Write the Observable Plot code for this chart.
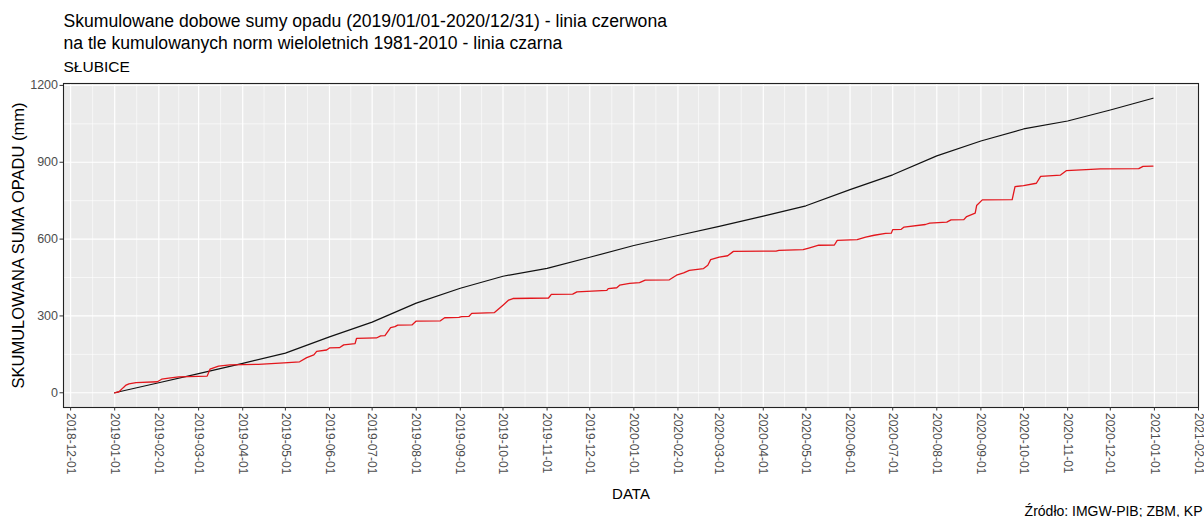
<!DOCTYPE html>
<html>
<head>
<meta charset="utf-8">
<script src="https://cdn.jsdelivr.net/npm/d3@7"></script>
<script src="https://cdn.jsdelivr.net/npm/@observablehq/plot@0.6"></script>
<style>
  html, body { margin: 0; padding: 0; background: #ffffff; }
</style>
</head>
<body>
<div id="chart"></div>
<script>
// Month ticks on the date axis
const monthTicks = [
  "2018-12-01",
  "2019-01-01", "2019-02-01", "2019-03-01", "2019-04-01", "2019-05-01", "2019-06-01",
  "2019-07-01", "2019-08-01", "2019-09-01", "2019-10-01", "2019-11-01", "2019-12-01",
  "2020-01-01", "2020-02-01", "2020-03-01", "2020-04-01", "2020-05-01", "2020-06-01",
  "2020-07-01", "2020-08-01", "2020-09-01", "2020-10-01", "2020-11-01", "2020-12-01",
  "2021-01-01", "2021-02-01"
];
const yTicks = [0, 300, 600, 900, 1200];
const yMinorTicks = [150, 450, 750, 1050];

// Cumulative long-term norm 1981-2010 (mm)
const normDates = [
  "2019-01-01", "2019-02-01", "2019-03-01", "2019-04-01", "2019-05-01", "2019-06-01",
  "2019-07-01", "2019-08-01", "2019-09-01", "2019-10-01", "2019-11-01", "2019-12-01",
  "2020-01-01", "2020-02-01", "2020-03-01", "2020-04-01", "2020-05-01", "2020-06-01",
  "2020-07-01", "2020-08-01", "2020-09-01", "2020-10-01", "2020-11-01", "2020-12-01",
  "2020-12-31"
];
const normTotals = [
  0, 39, 75, 115, 155, 218, 276, 350, 408, 455, 486, 529,
  575, 614, 650, 690, 730, 793, 851, 925, 983, 1030, 1061, 1104,
  1150
];

// Cumulative daily precipitation, Słubice (mm)
const rainDates = [
  "2019-01-01", "2019-01-04", "2019-01-07", "2019-01-09", "2019-01-11", "2019-01-16",
  "2019-01-31", "2019-02-03", "2019-02-08", "2019-02-15", "2019-03-07", "2019-03-09",
  "2019-03-15", "2019-03-23", "2019-04-12", "2019-04-30", "2019-05-11", "2019-05-16",
  "2019-05-21", "2019-05-23", "2019-05-30", "2019-06-01", "2019-06-08", "2019-06-11",
  "2019-06-19", "2019-06-20", "2019-07-04", "2019-07-07", "2019-07-10", "2019-07-14",
  "2019-07-17", "2019-07-19", "2019-07-29", "2019-08-01", "2019-08-18", "2019-08-21",
  "2019-08-31", "2019-09-02", "2019-09-07", "2019-09-09", "2019-09-25", "2019-10-01",
  "2019-10-05", "2019-10-08", "2019-11-02", "2019-11-04", "2019-11-19", "2019-11-22",
  "2019-12-13", "2019-12-14", "2019-12-20", "2019-12-22", "2019-12-29",
  "2020-01-05", "2020-01-09", "2020-01-26", "2020-01-31", "2020-02-05", "2020-02-09",
  "2020-02-19", "2020-02-22", "2020-02-24", "2020-03-01", "2020-03-07", "2020-03-11",
  "2020-04-10", "2020-04-12", "2020-04-29", "2020-05-03", "2020-05-10", "2020-05-21",
  "2020-05-23", "2020-06-06", "2020-06-12", "2020-06-18", "2020-06-26", "2020-06-30",
  "2020-07-01", "2020-07-07", "2020-07-09", "2020-07-24", "2020-07-27", "2020-08-08",
  "2020-08-11", "2020-08-20", "2020-08-22", "2020-08-28", "2020-08-29", "2020-09-02",
  "2020-09-23", "2020-09-25", "2020-10-01", "2020-10-10", "2020-10-13", "2020-10-27",
  "2020-10-31", "2020-11-14", "2020-11-24", "2020-12-21", "2020-12-24", "2020-12-31"
];
const rainTotals = [
  0, 4, 20, 30, 35, 40,
  43, 53, 57, 62, 65, 92,
  104, 109, 111, 117, 121, 137,
  148, 162, 167, 175, 176, 187,
  192, 212, 214, 222, 223, 254,
  258, 264, 265, 280, 281, 293,
  294, 297, 298, 310, 313, 342,
  362, 368, 370, 384, 385, 394,
  400, 407, 410, 420, 427,
  430, 440, 441, 459, 468, 478,
  485, 498, 520, 530, 535, 552,
  553, 556, 559, 565, 576, 577,
  595, 598, 608, 615, 622, 623,
  637, 638, 647, 657, 662, 666,
  675, 676, 688, 701, 731, 753,
  754, 805, 809, 818, 845, 850,
  867, 871, 874, 875, 884, 885
];

const titleLines = [
  "Skumulowane dobowe sumy opadu (2019/01/01-2020/12/31) - linia czerwona",
  "na tle kumulowanych norm wieloletnich 1981-2010 - linia czarna"
];
const stationName = "SŁUBICE";
const yTitle = "SKUMULOWANA SUMA OPADU (mm)";
const xTitle = "DATA";
const sourceNote = "Źródło: IMGW-PIB; ZBM, KP";

const parse = d3.utcParse("%Y-%m-%d");
const xTicks = monthTicks.map(parse);
const xMinorTicks = d3.pairs(xTicks, (a, b) => new Date((+a + +b) / 2));
const norm = normDates.map((d, i) => ({date: parse(d), value: normTotals[i]}));
const rain = rainDates.map((d, i) => ({date: parse(d), value: rainTotals[i]}));

const font = "'Liberation Sans', Arial, Helvetica, sans-serif";

const chart = Plot.plot({
  width: 1204,
  height: 517,
  marginTop: 83,
  marginBottom: 110,
  marginLeft: 63,
  marginRight: 6,
  style: {fontFamily: font, background: "#ffffff", overflow: "visible"},
  x: {type: "utc", domain: [parse("2018-11-26"), parse("2021-02-01")]},
  y: {domain: [-57.5, 1207.5]},
  marks: [
    Plot.frame({fill: "#ebebeb"}),
    Plot.ruleX(xMinorTicks, {stroke: "#ffffff", strokeWidth: 0.6}),
    Plot.ruleY(yMinorTicks, {stroke: "#ffffff", strokeWidth: 0.6}),
    Plot.ruleX(xTicks, {stroke: "#ffffff", strokeWidth: 1.2}),
    Plot.ruleY(yTicks, {stroke: "#ffffff", strokeWidth: 1.2}),
    Plot.line(norm, {x: "date", y: "value", stroke: "#111111", strokeWidth: 1.2}),
    Plot.line(rain, {x: "date", y: "value", stroke: "#e3161c", strokeWidth: 1.3}),
    Plot.frame({stroke: "#222222", strokeWidth: 1.1}),
    Plot.axisY({
      ticks: yTicks, tickFormat: d => String(d), tickSize: 3.5, tickPadding: 2, fontSize: 12.5,
      stroke: "#333333", fill: "#4d4d4d", label: null
    }),
    Plot.axisX({
      ticks: xTicks, tickFormat: d3.utcFormat("%Y-%m-%d"), tickRotate: 90,
      textAnchor: "start", lineAnchor: "middle",
      tickSize: 3.5, tickPadding: 2, fontSize: 12,
      stroke: "#333333", fill: "#4d4d4d", label: null
    }),
    Plot.text([titleLines[0]], {
      frameAnchor: "top-left", text: d => d, dy: -62,
      fontSize: 17.6, fill: "#000000", textAnchor: "start", lineAnchor: "middle"
    }),
    Plot.text([titleLines[1]], {
      frameAnchor: "top-left", text: d => d, dy: -40,
      fontSize: 17.6, fill: "#000000", textAnchor: "start", lineAnchor: "middle"
    }),
    Plot.text([stationName], {
      frameAnchor: "top-left", text: d => d, dy: -16,
      fontSize: 15.5, fill: "#000000", textAnchor: "start", lineAnchor: "middle"
    }),
    Plot.text([yTitle], {
      frameAnchor: "left", text: d => d, dx: -45, rotate: -90,
      fontSize: 16.5, fill: "#000000", textAnchor: "middle", lineAnchor: "middle"
    }),
    Plot.text([xTitle], {
      frameAnchor: "bottom", text: d => d, dy: 87,
      fontSize: 15, fill: "#000000", textAnchor: "middle", lineAnchor: "middle"
    }),
    Plot.text([sourceNote], {
      frameAnchor: "bottom-right", text: d => d, dx: 4, dy: 104,
      fontSize: 14, fill: "#000000", textAnchor: "end", lineAnchor: "middle"
    })
  ]
});

document.getElementById("chart").appendChild(chart);
</script>
</body>
</html>
